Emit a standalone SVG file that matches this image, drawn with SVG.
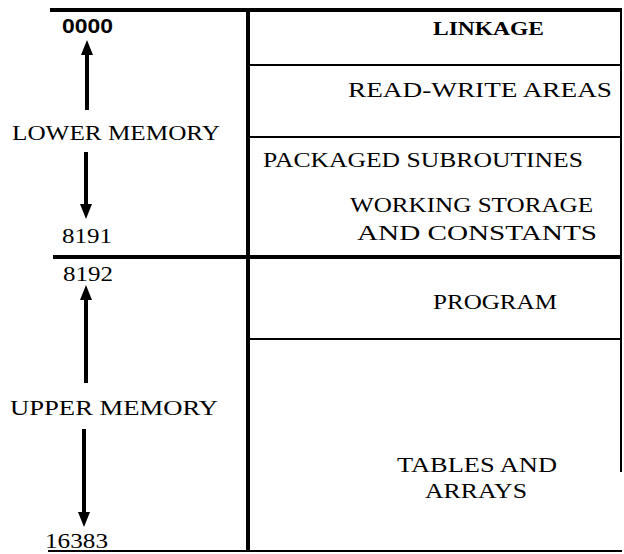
<svg xmlns="http://www.w3.org/2000/svg" width="624" height="554" viewBox="0 0 624 554">
<style>
.bg{fill:#ffffff}
.thick{stroke:#000;stroke-width:4;fill:none}
.thin{stroke:#000;stroke-width:2;fill:none}
.shaft{stroke:#000;stroke-width:4;fill:none}
.lbl{font-family:"Liberation Serif","Times New Roman",serif;font-size:22px;fill:#000}
.box{font-family:"Liberation Serif","Times New Roman",serif;font-size:20px;fill:#000}
.boxb{font-family:"Liberation Serif","Times New Roman",serif;font-size:19px;font-weight:bold;fill:#000}
.addr{font-family:"Liberation Serif","Times New Roman",serif;font-size:22px;fill:#000}
.addrb{font-family:"Liberation Sans",Arial,sans-serif;font-size:20px;font-weight:bold;fill:#000}
</style>
<defs>
<marker id="ah" viewBox="0 0 15 12" refX="0" refY="6" markerWidth="15" markerHeight="12" markerUnits="userSpaceOnUse" orient="auto">
<path d="M0,0 L15,6 L0,12 Z" fill="#000"/>
</marker>
</defs>
<rect class="bg" x="0" y="0" width="624" height="554"/>

<g id="frame">
<line class="thick" x1="50" y1="10" x2="622" y2="10"/>
<line class="thick" x1="248" y1="8" x2="248" y2="552"/>
<line class="thick" x1="53" y1="257" x2="622" y2="257"/>
<line class="thin" x1="48" y1="551" x2="622" y2="551"/>
<line class="thin" x1="621" y1="10" x2="621" y2="472"/>
</g>

<g id="linkage">
<line class="thin" x1="248" y1="65" x2="621" y2="65"/>
<text class="boxb" x="433" y="35" textLength="111" lengthAdjust="spacingAndGlyphs">LINKAGE</text>
</g>
<g id="read-write">
<line class="thin" x1="248" y1="137" x2="621" y2="137"/>
<text class="box" x="348" y="97" textLength="264" lengthAdjust="spacingAndGlyphs">READ-WRITE AREAS</text>
</g>
<g id="subroutines-storage">
<text class="box" x="263" y="167" textLength="320" lengthAdjust="spacingAndGlyphs">PACKAGED SUBROUTINES</text>
<text class="box" x="350" y="212" textLength="243" lengthAdjust="spacingAndGlyphs">WORKING STORAGE</text>
<text class="box" x="357" y="240" textLength="240" lengthAdjust="spacingAndGlyphs">AND CONSTANTS</text>
</g>
<g id="program">
<line class="thin" x1="248" y1="339" x2="621" y2="339"/>
<text class="box" x="433" y="309" textLength="124" lengthAdjust="spacingAndGlyphs">PROGRAM</text>
</g>
<g id="tables">
<text class="box" x="397" y="472" textLength="160" lengthAdjust="spacingAndGlyphs">TABLES AND</text>
<text class="box" x="425" y="498" textLength="102" lengthAdjust="spacingAndGlyphs">ARRAYS</text>
</g>

<g id="lower-memory">
<text class="addrb" x="62" y="33" textLength="51" lengthAdjust="spacingAndGlyphs">0000</text>
<text class="lbl" x="12" y="140" textLength="208" lengthAdjust="spacingAndGlyphs">LOWER MEMORY</text>
<text class="addr" x="62" y="243" textLength="50" lengthAdjust="spacingAndGlyphs">8191</text>
</g>
<g id="upper-memory">
<text class="addr" x="63" y="281" textLength="50" lengthAdjust="spacingAndGlyphs">8192</text>
<text class="lbl" x="10" y="415" textLength="208" lengthAdjust="spacingAndGlyphs">UPPER MEMORY</text>
<text class="addr" x="45" y="548" textLength="63" lengthAdjust="spacingAndGlyphs">16383</text>
</g>

<g id="connectors">
<line class="shaft" x1="87" y1="110" x2="87" y2="55" marker-end="url(#ah)"/>
<line class="shaft" x1="86" y1="152" x2="86" y2="204" marker-end="url(#ah)"/>
<line class="shaft" x1="86" y1="383" x2="86" y2="300" marker-end="url(#ah)"/>
<line class="shaft" x1="84" y1="429" x2="84" y2="512" marker-end="url(#ah)"/>
</g>
</svg>
